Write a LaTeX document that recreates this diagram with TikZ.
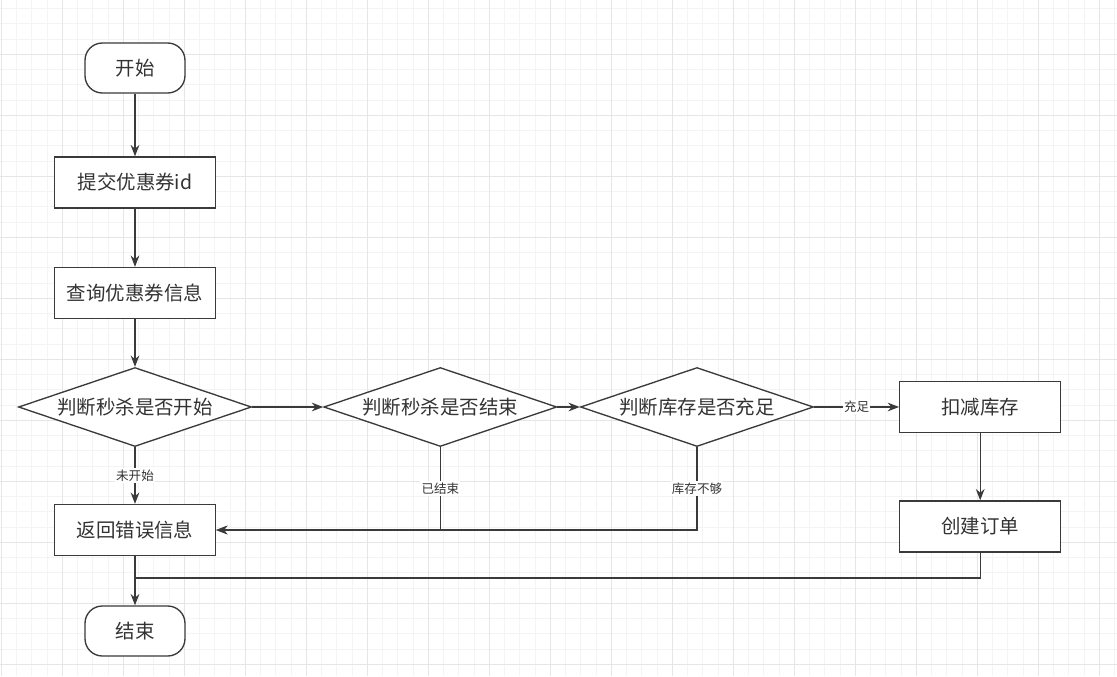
\documentclass[tikz,border=0pt]{standalone}
\usepackage{fontspec}
\setmainfont{Noto Sans CJK SC}
\usetikzlibrary{arrows.meta,shapes.geometric}
\definecolor{lineC}{HTML}{3A3A3A}
\definecolor{txtC}{HTML}{333333}
\definecolor{gridMinor}{HTML}{F4F4F4}
\definecolor{gridMajor}{HTML}{E6E6E6}

\begin{document}
\begin{tikzpicture}[x=0.75pt,y=-0.75pt,>={Stealth[length=8.5pt,width=6.5pt]},
 font=\fontsize{14.6pt}{17pt}\selectfont,text=txtC,
 box/.style={draw=lineC,line width=1pt,fill=white,minimum width=120.75pt,minimum height=38.25pt,inner sep=0pt},
 term/.style={box,rounded corners=13pt,minimum width=75pt,minimum height=37.5pt},
 decide/.style={draw=lineC,line width=1pt,fill=white,diamond,aspect=2.95,inner sep=0pt,minimum width=174.75pt,minimum height=59.25pt},
 link/.style={draw=lineC,line width=1pt},
 lbl/.style={fill=white,inner sep=1pt,font=\fontsize{9.4pt}{11pt}\selectfont}]
% background grid
\fill[white] (0,0) rectangle (1117,676);
\useasboundingbox (0,0) rectangle (1117,676);
\foreach \gx in {0,...,73}
  \draw[gridMinor,line width=0.75pt] ({1.3+15.25*\gx},0) -- ({1.3+15.25*\gx},676);
\foreach \gy in {1,...,44}
  \draw[gridMinor,line width=0.75pt] (0,{-6.7+15.25*\gy}) -- (1117,{-6.7+15.25*\gy});
\foreach \gx in {0,...,18}
  \draw[gridMajor,line width=0.75pt] ({1.3+61*\gx},0) -- ({1.3+61*\gx},676);
\foreach \gy in {1,...,11}
  \draw[gridMajor,line width=0.75pt] (0,{-6.7+61*\gy}) -- (1117,{-6.7+61*\gy});
% flow
\node[term] (start) at (135,68) {开始};
\node[box] (submit) at (135,182.5) {提交优惠券id};
\node[box] (query) at (135,293) {查询优惠券信息};
\node[decide] (chkStart) at (135,407) {判断秒杀是否开始};
\node[decide] (chkEnd) at (440.3,407) {判断秒杀是否结束};
\node[decide] (chkStock) at (697,407) {判断库存是否充足};
\node[box] (deduct) at (980.2,407) {扣减库存};
\node[box] (order) at (980.2,526.5) {创建订单};
\node[box] (fail) at (135,530) {返回错误信息};
\node[term] (finish) at (135,631) {结束};
\draw[link,->] (start) -- (submit);
\draw[link,->] (submit) -- (query);
\draw[link,->] (query) -- (chkStart);
\draw[link,->] (chkStart) -- (chkEnd);
\draw[link,->] (chkEnd) -- (chkStock);
\draw[link,->] (chkStock) -- node[lbl]{充足} (deduct);
\draw[link,->] (chkStart) -- node[lbl]{未开始} (fail);
\draw[link,->] (chkEnd.south) |- node[lbl,pos=0.25]{已结束} (fail.east);
\draw[link,->] (chkStock.south) |- node[lbl,pos=0.25]{库存不够} (fail.east);
\draw[link,->] (deduct) -- (order);
\coordinate (merge) at (135,578);
\draw[link] (order.south) |- (merge);
\draw[link,->] (fail) -- (finish);
\end{tikzpicture}
\end{document}
